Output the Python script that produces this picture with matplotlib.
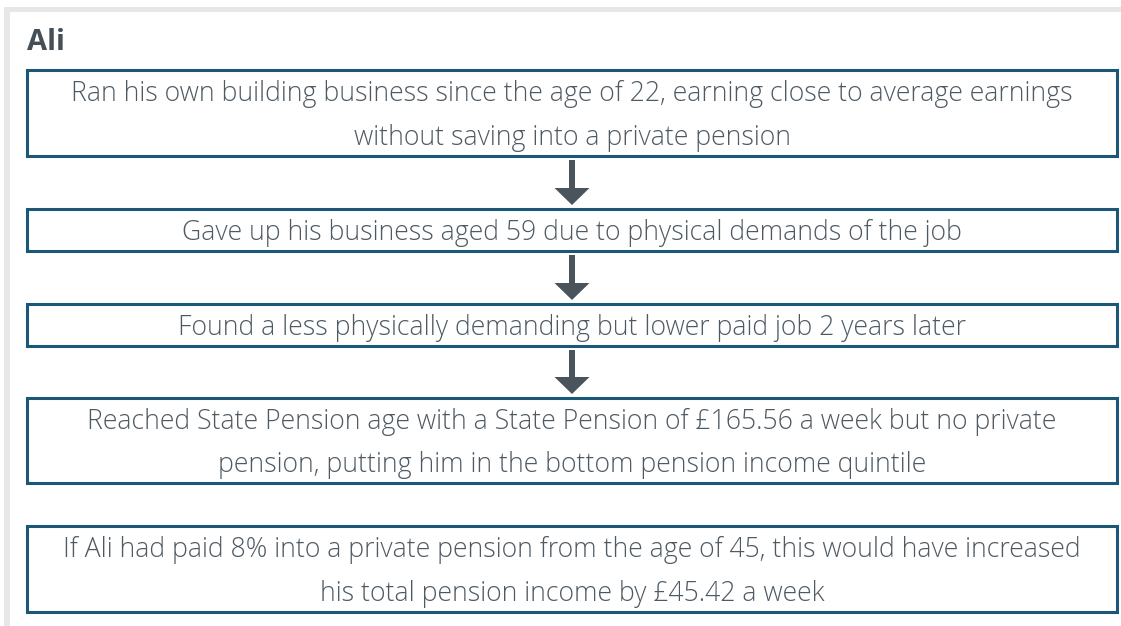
import matplotlib
matplotlib.use("Agg")
import matplotlib.pyplot as plt
from matplotlib.patches import Rectangle, FancyArrow

plt.rcParams['font.family'] = ['Open Sans', 'DejaVu Sans']

title = "Ali"
steps = [
    "Ran his own building business since the age of 22, earning close to average earnings\nwithout saving into a private pension",
    "Gave up his business aged 59 due to physical demands of the job",
    "Found a less physically demanding but lower paid job 2 years later",
    "Reached State Pension age with a State Pension of £165.56 a week but no private\npension, putting him in the bottom pension income quintile",
    "If Ali had paid 8% into a private pension from the age of 45, this would have increased\nhis total pension income by £45.42 a week",
]
# box top / bottom in pixels
box_top = [70, 209, 304, 398, 526]
box_bot = [156, 251, 346, 483, 612]
arrow_after = [0, 1, 2]  # arrows drawn below these boxes

BORDER = '#1b5878'
TEXT = '#4e5a63'
ARROW = '#4a545c'
FRAME = '#e7e7e7'

W, H = 1121, 626
fig = plt.figure(figsize=(W / 100, H / 100), dpi=100)
ax = fig.add_axes([0, 0, 1, 1])
ax.set_xlim(0, W)
ax.set_ylim(H, 0)
ax.axis('off')

# light grey frame (top and left only)
ax.add_patch(Rectangle((4, 7), W, 5, color=FRAME, lw=0))
ax.add_patch(Rectangle((4, 7), 6, H, color=FRAME, lw=0))

ax.text(27, 43, title, fontsize=21, fontweight='bold', color='#444f58',
        ha='left', va='center')

x0, x1 = 27, 1117
for txt, t, b in zip(steps, box_top, box_bot):
    ax.add_patch(Rectangle((x0, t), x1 - x0, b - t, fill=False,
                           edgecolor=BORDER, lw=2.2))
    ax.text((x0 + x1) / 2, (t + b) / 2 + 3, txt, fontsize=19.2, color=TEXT,
            fontweight='light', ha='center', va='center', linespacing=1.76)

cx = 572
for i in arrow_after:
    y_start = box_bot[i] + 4
    y_end = box_top[i + 1] - 4
    ax.add_patch(FancyArrow(cx, y_start, 0, y_end - y_start, width=6,
                            head_width=35, head_length=17,
                            length_includes_head=True, color=ARROW, lw=0))

fig.savefig('out.png', dpi=100)
